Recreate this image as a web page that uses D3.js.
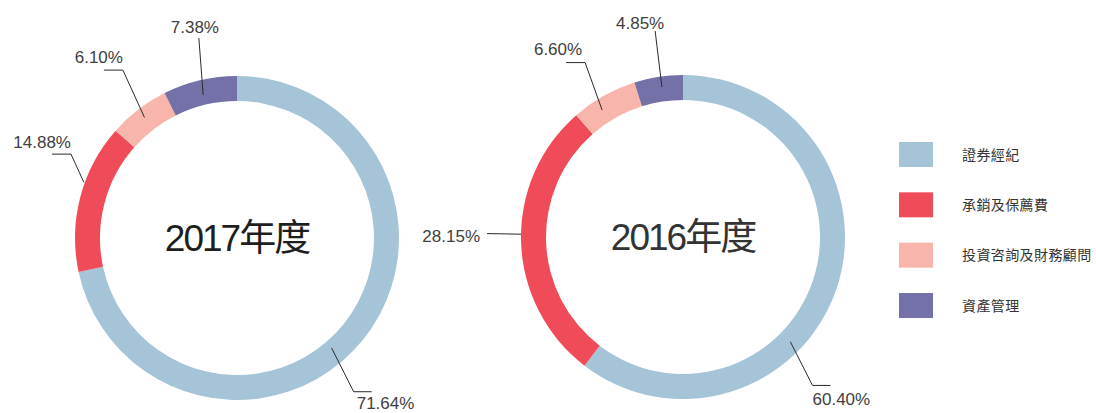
<!DOCTYPE html>
<html><head><meta charset="utf-8">
<script src="https://cdn.jsdelivr.net/npm/d3@7"></script>
<style>body{margin:0;background:#fff}svg{display:block}</style>
</head><body>
<svg id="chart" width="1096" height="413"></svg>
<script>
const categories = ["證券經紀", "承銷及保薦費", "投資咨詢及財務顧問", "資產管理"];
const years = ["2017年度", "2016年度"];
const values2017 = [71.64, 14.88, 6.10, 7.38];
const values2016 = [60.40, 28.15, 6.60, 4.85];
const colors = ["#a5c4d7", "#ef4b59", "#f8b5ab", "#7470a8"];

// label layout (polar: degrees clockwise from top, radius) — style/positions only
const labelLayout = [
  [ // 2017
    {a0:139.3, r0:145, a1:142.8, r1:193, tail:18, tx:3, ty:17, anchor:"start"},
    {a0:290, r0:163, a1:296.8, r1:186, tail:-19, tx:0, ty:-6, anchor:"end"},
    {a0:322.5, r0:152, a1:325.8, r1:203, tail:-19, tx:0, ty:-7, anchor:"end"},
    {a0:346.7, r0:147, a1:349.2, r1:203.6, tail:0, tx:-4, ty:-5, anchor:"middle"}
  ],
  [ // 2016
    {a0:134.3, r0:150, a1:138.9, r1:197, tail:18, tx:0, ty:20, anchor:"start"},
    {a0:271, r0:162, a1:271, r1:196, tail:0, tx:-7, ty:8, anchor:"end"},
    {a0:327.5, r0:150.6, a1:330.7, r1:200, tail:-19, tx:-3, ty:-8, anchor:"end"},
    {a0:352, r0:151.5, a1:352.3, r1:208, tail:0, tx:-15, ty:-2, anchor:"middle"}
  ]
];

const svg = d3.select("#chart");
const centers = [[237, 238], [683, 237]];
const outerR = 162, innerR = 137;
const pie = d3.pie().sort(null).value(d => d).startAngle(0).endAngle(2 * Math.PI);
const arc = d3.arc().innerRadius(innerR).outerRadius(outerR);
const color = d3.scaleOrdinal().domain(categories).range(colors);
const polar = (a, r) => { const t = a * Math.PI / 180; return [r * Math.sin(t), -r * Math.cos(t)]; };

[values2017, values2016].forEach((vals, i) => {
  const g = svg.append("g").attr("transform", `translate(${centers[i][0]},${centers[i][1]})`);
  g.selectAll("path.slice").data(pie(vals)).join("path")
    .attr("class", "slice")
    .attr("d", arc)
    .attr("fill", (d, j) => color(categories[j]));

  pie(vals).forEach((d, j) => {
    const L = labelLayout[i][j];
    const p0 = polar(L.a0, L.r0), p1 = polar(L.a1, L.r1);
    const p2 = [p1[0] + L.tail, p1[1]];
    g.append("polyline")
      .attr("points", [p0, p1, p2].map(p => p.join(",")).join(" "))
      .attr("fill", "none").attr("stroke", "#2b2b2b").attr("stroke-width", 1);
    g.append("text")
      .attr("x", L.anchor === "start" ? p1[0] + L.tx : (L.anchor === "end" ? (L.tail < 0 ? p1[0] : p2[0]) + L.tx : p1[0] + L.tx))
      .attr("y", p1[1] + L.ty)
      .attr("text-anchor", L.anchor)
      .attr("font-family", "'Liberation Sans', Arial, sans-serif")
      .attr("font-size", 17)
      .attr("fill", "#404040")
      .text(d3.format(".2f")(d.data) + "%");
  });

  g.append("text")
    .attr("x", 0).attr("y", 13)
    .attr("text-anchor", "middle")
    .attr("font-family", "'Liberation Sans', 'Noto Sans CJK TC', sans-serif")
    .attr("font-size", 37)
    .attr("letter-spacing", -2)
    .attr("fill", i === 0 ? "#1e1e1e" : "#333")
    .text(years[i]);
});

// legend
const legendY = d3.scalePoint().domain(categories).range([154.5, 305.5]);
const lg = svg.append("g");
lg.selectAll("rect").data(categories).join("rect")
  .attr("x", 899).attr("y", d => legendY(d) - 12.5)
  .attr("width", 34).attr("height", 25)
  .attr("fill", d => color(d));
lg.selectAll("text").data(categories).join("text")
  .attr("x", 962).attr("y", d => legendY(d) + 5)
  .attr("font-family", "'Noto Sans CJK TC', sans-serif")
  .attr("font-size", 14)
  .attr("letter-spacing", 0.4)
  .attr("fill", "#333")
  .text(d => d);
</script>
</body></html>
